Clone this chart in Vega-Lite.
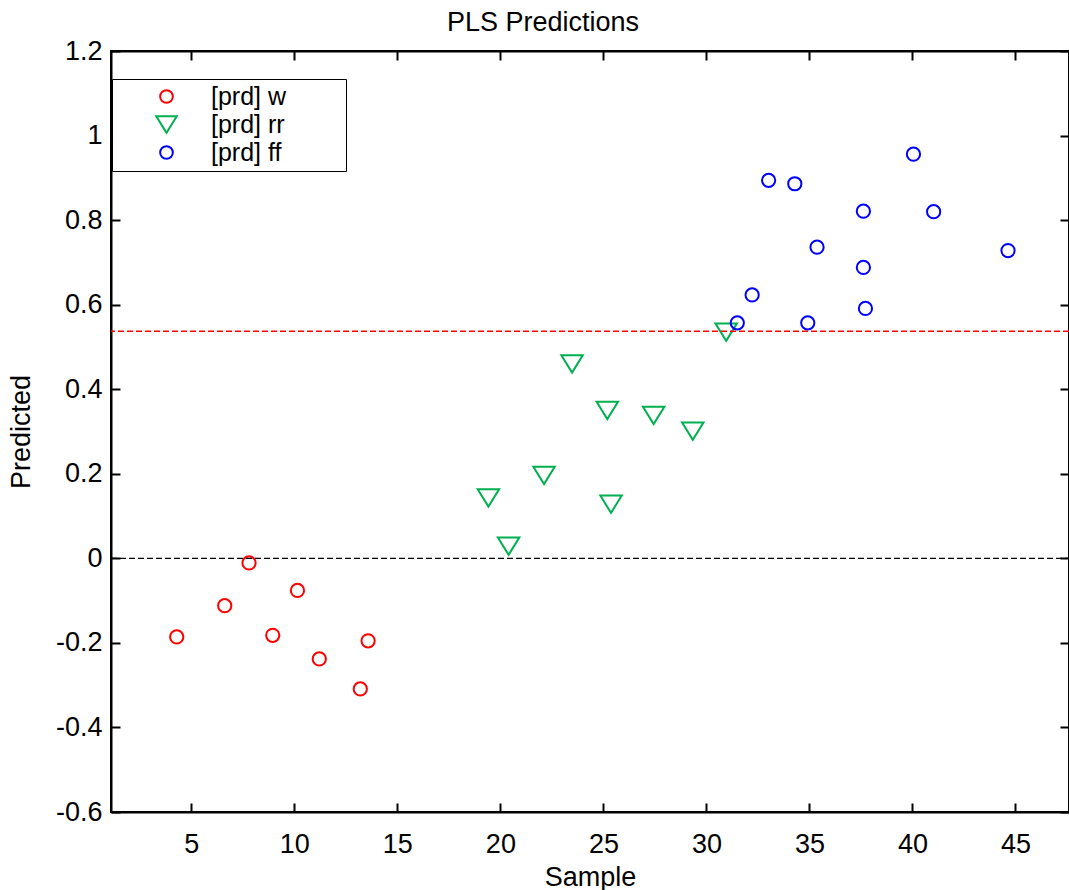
{
  "$schema": "https://vega.github.io/schema/vega-lite/v6.json",
  "autosize": "none",
  "padding": {"left": 111, "top": 51, "right": 0, "bottom": 78},
  "width": 958,
  "height": 761,
  "background": "white",
  "title": {
    "text": "PLS Predictions",
    "anchor": "start",
    "frame": "group",
    "dx": 336,
    "offset": 0,
    "font": "Liberation Sans",
    "fontSize": 27,
    "fontWeight": "normal",
    "color": "black"
  },
  "config": {
    "view": {"stroke": "black", "strokeWidth": 2},
    "font": "Liberation Sans",
    "axis": {
      "domainColor": "black",
      "domainWidth": 2,
      "tickColor": "black",
      "tickWidth": 2,
      "tickSize": -9,
      "grid": false,
      "labelFont": "Liberation Sans",
      "labelFontSize": 27,
      "labelColor": "black",
      "titleFont": "Liberation Sans",
      "titleFontSize": 27,
      "titleFontWeight": "normal",
      "titleColor": "black"
    }
  },
  "datasets": {
    "predictions": [
      {"sample": 4.29, "predicted": -0.186, "group": "[prd] w"},
      {"sample": 6.62, "predicted": -0.112, "group": "[prd] w"},
      {"sample": 7.80, "predicted": -0.011, "group": "[prd] w"},
      {"sample": 8.95, "predicted": -0.182, "group": "[prd] w"},
      {"sample": 10.15, "predicted": -0.076, "group": "[prd] w"},
      {"sample": 11.21, "predicted": -0.238, "group": "[prd] w"},
      {"sample": 13.20, "predicted": -0.309, "group": "[prd] w"},
      {"sample": 13.58, "predicted": -0.195, "group": "[prd] w"},
      {"sample": 19.42, "predicted": 0.143, "group": "[prd] rr"},
      {"sample": 20.40, "predicted": 0.029, "group": "[prd] rr"},
      {"sample": 22.12, "predicted": 0.196, "group": "[prd] rr"},
      {"sample": 23.48, "predicted": 0.460, "group": "[prd] rr"},
      {"sample": 25.19, "predicted": 0.350, "group": "[prd] rr"},
      {"sample": 25.37, "predicted": 0.128, "group": "[prd] rr"},
      {"sample": 27.44, "predicted": 0.338, "group": "[prd] rr"},
      {"sample": 29.34, "predicted": 0.301, "group": "[prd] rr"},
      {"sample": 30.96, "predicted": 0.535, "group": "[prd] rr"},
      {"sample": 31.50, "predicted": 0.557, "group": "[prd] ff"},
      {"sample": 32.22, "predicted": 0.623, "group": "[prd] ff"},
      {"sample": 33.02, "predicted": 0.894, "group": "[prd] ff"},
      {"sample": 34.29, "predicted": 0.886, "group": "[prd] ff"},
      {"sample": 34.92, "predicted": 0.557, "group": "[prd] ff"},
      {"sample": 35.37, "predicted": 0.736, "group": "[prd] ff"},
      {"sample": 37.62, "predicted": 0.821, "group": "[prd] ff"},
      {"sample": 37.62, "predicted": 0.688, "group": "[prd] ff"},
      {"sample": 37.72, "predicted": 0.591, "group": "[prd] ff"},
      {"sample": 40.05, "predicted": 0.956, "group": "[prd] ff"},
      {"sample": 41.03, "predicted": 0.820, "group": "[prd] ff"},
      {"sample": 44.64, "predicted": 0.728, "group": "[prd] ff"}
    ],
    "zero": [{"level": 0}],
    "threshold": [{"level": 0.537}]
  },
  "resolve": {"axis": {"x": "independent", "y": "independent"}},
  "layer": [
    {
      "data": {"name": "predictions"},
      "mark": {"type": "point", "filled": false, "strokeWidth": 2, "opacity": 1, "size": 175},
      "encoding": {
        "x": {
          "field": "sample",
          "type": "quantitative",
          "title": "Sample",
          "scale": {"domain": [1.1, 47.6], "nice": false, "zero": false},
          "axis": {
            "orient": "bottom",
            "values": [5, 10, 15, 20, 25, 30, 35, 40, 45],
            "labelFontSize": 27,
            "titleFontSize": 27,
            "labelPadding": 28,
            "titlePadding": 7,
            "labelExpr": "datum.value + ''"
          }
        },
        "y": {
          "field": "predicted",
          "type": "quantitative",
          "title": "Predicted",
          "scale": {"domain": [-0.6, 1.2], "nice": false, "zero": false},
          "axis": {
            "orient": "left",
            "values": [-0.6, -0.4, -0.2, 0, 0.2, 0.4, 0.6, 0.8, 1, 1.2],
            "labelFontSize": 27,
            "titleFontSize": 27,
            "labelPadding": 18,
            "titlePadding": 20,
            "labelExpr": "datum.value + ''"
          }
        },
        "color": {
          "field": "group",
          "type": "nominal",
          "scale": {"domain": ["[prd] w", "[prd] rr", "[prd] ff"], "range": ["#ff0000", "#00b050", "#0000ff"]},
          "legend": {
            "orient": "none",
            "legendX": 1,
            "legendY": 28,
            "title": null,
            "strokeColor": "black",
            "fillColor": "white",
            "padding": 5,
            "symbolStrokeWidth": 2,
            "symbolSize": 160,
            "symbolOffset": 37,
            "labelOffset": 32,
            "labelFontSize": 25,
            "labelFont": "Liberation Sans",
            "labelColor": "black",
            "labelLimit": 300,
            "rowPadding": 2,
            "labelExpr": "datum.label + '\u2800\u2800\u2800'"
          }
        },
        "shape": {
          "field": "group",
          "type": "nominal",
          "scale": {"domain": ["[prd] w", "[prd] rr", "[prd] ff"], "range": ["circle", "M-1.62,-1.31L1.62,-1.31L0,1.31Z", "circle"]}
        }
      }
    },
    {
      "data": {"name": "zero"},
      "mark": {"type": "rule", "color": "black", "strokeWidth": 1.3, "strokeDash": [6, 3]},
      "encoding": {
        "y": {
          "field": "level",
          "type": "quantitative",
          "axis": {"orient": "right", "values": [-0.6, -0.4, -0.2, 0, 0.2, 0.4, 0.6, 0.8, 1, 1.2], "labels": false, "title": null}
        },
        "x": {
          "datum": 1.1,
          "type": "quantitative",
          "axis": {"orient": "top", "values": [5, 10, 15, 20, 25, 30, 35, 40, 45], "labels": false, "title": null}
        },
        "x2": {"datum": 47.6}
      }
    },
    {
      "data": {"name": "threshold"},
      "mark": {"type": "rule", "color": "#ff0000", "strokeWidth": 1.5, "strokeDash": [6, 3]},
      "encoding": {
        "y": {"field": "level", "type": "quantitative", "axis": null}
      }
    }
  ]
}
